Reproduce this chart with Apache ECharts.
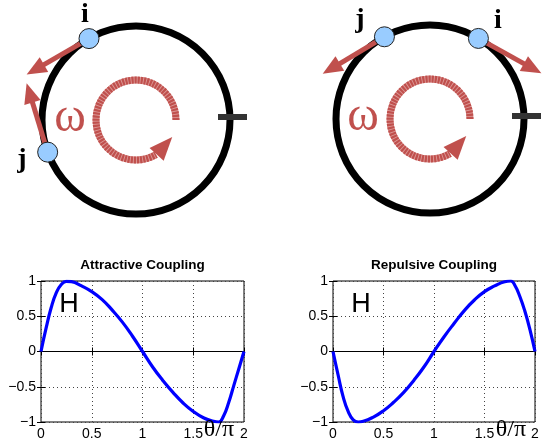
<!DOCTYPE html>
<html><head><meta charset="utf-8">
<script src="https://cdn.jsdelivr.net/npm/echarts@6/dist/echarts.min.js"></script>
<style>html,body{margin:0;padding:0;background:#fff}#c{width:547px;height:448px}</style>
</head><body><div id="c"></div>
<script>
// ---- data ----
const xTickLabels = ['0','0.5','1','1.5','2'];
const yTickLabels = ['−1','−0.5','0','0.5','1'];
const thetaAtt = [0,0.05,0.1,0.15,0.2,0.25,0.3,0.4,0.5,0.6,0.7,0.8,0.9,1.0,1.1,1.2,1.3,1.4,1.5,1.6,1.7,1.75,1.8,1.85,1.9,1.95,2.0];
const hAtt     = [0,0.33,0.62,0.83,0.95,0.995,0.99,0.93,0.85,0.74,0.59,0.42,0.22,0,-0.22,-0.41,-0.58,-0.73,-0.85,-0.94,-0.99,-1.0,-0.91,-0.72,-0.48,-0.24,0];
const thetaRep = [0,0.05,0.1,0.15,0.2,0.25,0.3,0.4,0.5,0.6,0.7,0.8,0.9,1.0,1.1,1.2,1.3,1.4,1.5,1.6,1.7,1.76,1.8,1.85,1.9,1.95,2.0];
const hRep     = [0,-0.33,-0.64,-0.85,-0.97,-1.0,-0.99,-0.93,-0.84,-0.72,-0.58,-0.41,-0.22,0,0.21,0.40,0.58,0.73,0.85,0.93,0.99,1.0,0.94,0.78,0.57,0.31,0];
const titles = ['Attractive Coupling','Repulsive Coupling'];

// schematic: node angles (deg, counter-clockwise from the right) and arrow directions
const leftNodes  = [{name:'i', ang:120, arrowAng:210, lab:[85,15]}, {name:'j', ang:200, arrowAng:107, lab:[22,160]}];
const rightNodes = [{name:'j', ang:119, arrowAng:211, lab:[360,20]}, {name:'i', ang:59, arrowAng:331, lab:[498,21]}];

const RED = '#c0504d';
const chart = echarts.init(document.getElementById('c'));

function P(cx, cy, r, deg){ const a = deg*Math.PI/180; return [cx + r*Math.cos(a), cy - r*Math.sin(a)]; }

function diagram(cx, cy, nodes, omegaX){
  const R = 94, els = [];
  els.push({type:'circle', shape:{cx, cy, r:R}, style:{fill:'none', stroke:'#000', lineWidth:7}, z:1});
  els.push({type:'rect', shape:{x:cx+R-12, y:cy-6, width:29, height:6}, style:{fill:'#333'}, z:2});
  // spiral omega arrow
  const rs = 40;
  els.push({type:'arc', shape:{cx, cy, r:rs, startAngle:0, endAngle:Math.PI/3, clockwise:false}, style:{fill:'none', stroke:'#dc9896', lineWidth:7}, z:2});
  els.push({type:'arc', shape:{cx, cy, r:rs, startAngle:0, endAngle:Math.PI/3, clockwise:false}, style:{fill:'none', stroke:RED, lineWidth:7, lineDash:[2.2,0.9]}, z:3});
  const base = P(cx, cy, rs, -59), tip = P(cx, cy, rs, -25);
  let dx = tip[0]-base[0], dy = tip[1]-base[1]; const L = Math.hypot(dx,dy); dx/=L; dy/=L;
  els.push({type:'polygon', shape:{points:[tip, [base[0]-dy*9.5, base[1]+dx*9.5], [base[0]+dy*9.5, base[1]-dx*9.5]]}, style:{fill:RED}, z:3});
  els.push({type:'text', x:omegaX, y:cy-2, style:{text:'ω', font:'48px "Liberation Serif"', fill:RED, align:'center', verticalAlign:'middle'}, z:3});
  nodes.forEach(n => {
    const c = P(cx, cy, R, n.ang);
    const len = 72, head = 20, a = n.arrowAng*Math.PI/180;
    const t = [c[0] + len*Math.cos(a), c[1] - len*Math.sin(a)];
    const b = [c[0] + (len-head)*Math.cos(a), c[1] - (len-head)*Math.sin(a)];
    const ux = Math.cos(a), uy = -Math.sin(a);
    els.push({type:'line', shape:{x1:c[0], y1:c[1], x2:b[0]+ux*2, y2:b[1]+uy*2}, style:{stroke:RED, lineWidth:5}, z:4});
    els.push({type:'polygon', shape:{points:[t, [b[0]-uy*8.5, b[1]+ux*8.5], [b[0]+uy*8.5, b[1]-ux*8.5]]}, style:{fill:RED}, z:4});
    els.push({type:'circle', shape:{cx:c[0], cy:c[1], r:10}, style:{fill:'#99ccff', stroke:'#222', lineWidth:1}, z:5});
    els.push({type:'text', x:n.lab[0], y:n.lab[1], style:{text:n.name, font:'bold 28px "Liberation Serif"', fill:'#000', align:'center', verticalAlign:'middle'}, z:5});
  });
  return els;
}

const grids = [{left:41, top:281, width:203, height:141}, {left:333, top:281, width:202, height:141}];
const graphic = [].concat(diagram(136, 120, leftNodes, 70), diagram(430, 119, rightNodes, 363));
grids.forEach((g, k) => {
  graphic.push({type:'text', x:g.left+g.width/2, y:265, style:{text:titles[k], font:'bold 13.5px "Liberation Sans"', fill:'#000', align:'center', verticalAlign:'middle'}, z:10});
  graphic.push({type:'text', x:g.left+28, y:305, style:{text:'H', font:'27px "Liberation Sans"', fill:'#000', align:'center', verticalAlign:'middle'}, z:10});
  graphic.push({type:'text', x:g.left+178, y:430, style:{text:'θ/π', font:'24px "Liberation Serif"', fill:'#000', align:'center', verticalAlign:'middle'}, z:10});
});

const xAxis = [], yAxis = [];
grids.forEach((g, k) => {
  xAxis.push({gridIndex:k, type:'value', min:0, max:2, interval:0.5, position:'bottom',
    axisLine:{show:false}, axisTick:{show:true, inside:true, length:4, lineStyle:{color:'#000'}},
    axisLabel:{margin:5, fontSize:14, color:'#000', fontFamily:'Liberation Sans', showMinLabel:true, showMaxLabel:true,
      formatter:(v)=>xTickLabels[Math.round(v/0.5)]},
    splitLine:{show:true, lineStyle:{color:'#444', type:[1,3], width:1}}});
  xAxis.push({gridIndex:k, type:'value', min:0, max:2, interval:0.5, position:'top',
    axisLine:{show:false}, axisTick:{show:true, inside:true, length:4, lineStyle:{color:'#000'}},
    axisLabel:{show:false}, splitLine:{show:false}});
  yAxis.push({gridIndex:k, type:'value', min:-1, max:1, interval:0.5, position:'left',
    axisLine:{show:false}, axisTick:{show:true, inside:true, length:4, lineStyle:{color:'#000'}},
    axisLabel:{margin:5, fontSize:14, color:'#000', fontFamily:'Liberation Sans', showMinLabel:true, showMaxLabel:true,
      formatter:(v)=>yTickLabels[Math.round((v+1)/0.5)]},
    splitLine:{show:true, lineStyle:{color:'#444', type:[1,3], width:1}}});
  yAxis.push({gridIndex:k, type:'value', min:-1, max:1, interval:0.5, position:'right',
    axisLine:{show:false}, axisTick:{show:true, inside:true, length:4, lineStyle:{color:'#000'}},
    axisLabel:{show:false}, splitLine:{show:false}});
});

const mk = (xs, ys) => xs.map((x,i)=>[x, ys[i]]);
const series = [[thetaAtt,hAtt],[thetaRep,hRep]].map((d,k)=>({
  type:'line', xAxisIndex:2*k, yAxisIndex:2*k, data:mk(d[0], d[1]), smooth:0.5, showSymbol:false,
  lineStyle:{color:'#0000ff', width:3.2}, z:5,
  markLine:{silent:true, symbol:'none', label:{show:false}, lineStyle:{color:'#000', type:'solid', width:1}, data:[{yAxis:0}]}
}));

chart.setOption({
  animation:false, backgroundColor:'#fff',
  grid: grids.map(g=>Object.assign({show:true, borderColor:'#000', borderWidth:1, backgroundColor:'transparent'}, g)),
  xAxis, yAxis, series, graphic
});
</script></body></html>
